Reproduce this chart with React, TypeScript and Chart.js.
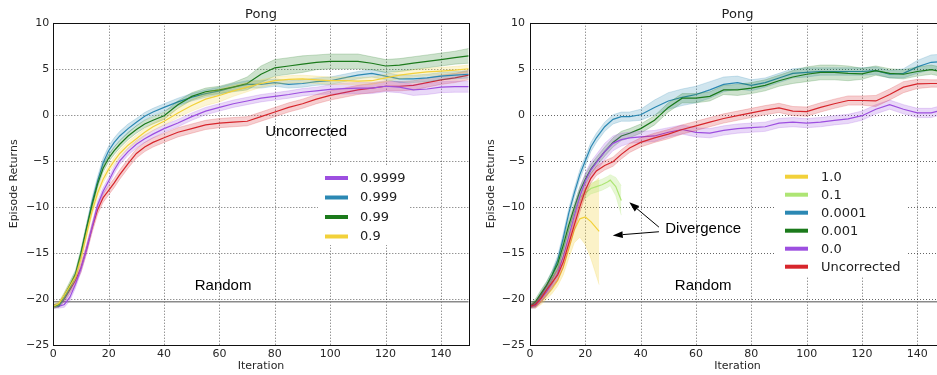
import React, { useEffect, useRef } from "react";
import { Chart, registerables } from "chart.js";

Chart.register(...registerables);

// ---------------- shared axes ----------------
const iterations = [0, 2, 4, 6, 8, 10, 12, 14, 16, 18, 20, 22, 24, 27, 30, 33, 36, 40, 45, 50, 55, 60, 65, 70, 75, 80, 85, 90, 95, 100, 105, 110, 115, 120, 125, 130, 135, 140, 145, 150];
const xTicks = [0, 20, 40, 60, 80, 100, 120, 140];
const yTicks = [-25, -20, -15, -10, -5, 0, 5, 10];
const randomScore = -20.3;

// ---------------- left panel (discount values) ----------------
const left9999 = [-20.8, -20.8, -20.6, -19.8, -18.4, -16.7, -14.6, -12.2, -9.8, -8.3, -7.2, -6.0, -5.0, -4.0, -3.2, -2.6, -2.1, -1.5, -0.9, -0.2, 0.4, 0.8, 1.2, 1.5, 1.8, 2.0, 2.2, 2.45, 2.6, 2.75, 2.85, 2.9, 2.9, 3.1, 3.0, 2.7, 2.8, 3.0, 3.05, 3.05];
const left9999Sd = [0.2, 0.2, 0.3, 0.4, 0.4, 0.4, 0.4, 0.4, 0.4, 0.4, 0.4, 0.4, 0.4, 0.4, 0.4, 0.4, 0.4, 0.4, 0.4, 0.4, 0.4, 0.4, 0.4, 0.4, 0.4, 0.4, 0.4, 0.4, 0.4, 0.5, 0.6, 0.6, 0.6, 0.6, 0.6, 0.6, 0.6, 0.6, 0.6, 0.6];
const left999 = [-20.8, -20.7, -19.9, -18.8, -17.5, -15.2, -12.4, -9.5, -7.2, -5.2, -3.9, -3.0, -2.3, -1.5, -0.8, -0.15, 0.3, 0.8, 1.4, 1.9, 2.3, 2.6, 3.0, 3.3, 3.3, 3.5, 3.3, 3.4, 3.6, 3.7, 4.0, 4.3, 4.5, 4.2, 3.9, 3.9, 4.0, 4.2, 4.3, 4.4];
const left999Sd = [0.2, 0.2, 0.3, 0.4, 0.4, 0.5, 0.5, 0.5, 0.5, 0.5, 0.5, 0.5, 0.5, 0.5, 0.4, 0.4, 0.4, 0.4, 0.4, 0.4, 0.4, 0.4, 0.4, 0.4, 0.4, 0.4, 0.4, 0.4, 0.4, 0.4, 0.4, 0.4, 0.4, 0.4, 0.4, 0.4, 0.4, 0.4, 0.4, 0.4];
const left99 = [-20.8, -20.6, -19.6, -18.5, -17.3, -15.0, -12.3, -9.8, -7.5, -5.8, -4.7, -3.9, -3.2, -2.3, -1.6, -1.0, -0.6, -0.1, 1.1, 2.0, 2.5, 2.7, 3.0, 3.4, 4.4, 5.1, 5.3, 5.5, 5.7, 5.8, 5.8, 5.8, 5.6, 5.3, 5.4, 5.6, 5.8, 6.0, 6.2, 6.4];
const left99Sd = [0.2, 0.2, 0.3, 0.4, 0.4, 0.4, 0.4, 0.4, 0.4, 0.4, 0.4, 0.4, 0.4, 0.4, 0.4, 0.4, 0.4, 0.4, 0.4, 0.4, 0.4, 0.4, 0.5, 0.7, 0.9, 0.9, 0.9, 0.9, 0.8, 0.8, 0.8, 0.8, 0.7, 0.7, 0.7, 0.7, 0.7, 0.7, 0.7, 0.8];
const left9 = [-20.8, -20.5, -19.6, -18.6, -17.6, -15.6, -13.0, -10.5, -8.5, -7.0, -5.9, -5.0, -4.2, -3.3, -2.6, -1.9, -1.3, -0.7, 0.2, 1.0, 1.7, 2.1, 2.6, 3.0, 3.4, 3.7, 3.85, 3.9, 3.8, 3.7, 3.7, 3.65, 3.7, 4.0, 4.3, 4.5, 4.65, 4.75, 4.85, 5.0];
const left9Sd = [0.2, 0.2, 0.3, 0.3, 0.3, 0.4, 0.4, 0.4, 0.4, 0.4, 0.4, 0.4, 0.4, 0.4, 0.4, 0.4, 0.4, 0.4, 0.5, 0.6, 0.7, 0.7, 0.6, 0.5, 0.4, 0.4, 0.4, 0.4, 0.4, 0.4, 0.4, 0.4, 0.4, 0.4, 0.4, 0.4, 0.4, 0.4, 0.4, 0.4];
const leftUncorrected = [-20.8, -20.7, -20.0, -19.0, -18.0, -16.6, -14.6, -12.3, -10.3, -9.0, -8.2, -7.4, -6.5, -5.3, -4.2, -3.5, -3.0, -2.5, -1.9, -1.5, -1.1, -0.9, -0.8, -0.7, -0.2, 0.3, 0.8, 1.2, 1.7, 2.1, 2.4, 2.7, 2.9, 3.1, 3.1, 3.2, 3.5, 3.8, 4.0, 4.3];
const leftUncorrectedSd = [0.2, 0.2, 0.3, 0.4, 0.4, 0.5, 0.5, 0.5, 0.5, 0.5, 0.5, 0.5, 0.5, 0.5, 0.5, 0.5, 0.5, 0.5, 0.5, 0.5, 0.5, 0.5, 0.5, 0.5, 0.5, 0.5, 0.5, 0.5, 0.5, 0.5, 0.5, 0.5, 0.5, 0.5, 0.5, 0.5, 0.5, 0.5, 0.5, 0.5];

// ---------------- right panel (regularisation values) ----------------
const right10Iter = [0, 2, 4, 6, 8, 10, 12, 14, 16, 18, 20, 22, 24, 25];
const right10 = [-20.8, -20.8, -20.3, -19.6, -18.9, -18.0, -16.6, -14.6, -12.5, -11.3, -11.1, -11.6, -12.3, -12.65];
const right10Sd = [0.2, 0.2, 0.3, 0.4, 0.5, 0.6, 0.8, 1.0, 1.4, 2.0, 3.0, 4.0, 5.2, 5.8];
const right01Iter = [0, 2, 4, 6, 8, 10, 12, 14, 16, 18, 20, 22, 24, 26, 28, 29, 31, 33];
const right01 = [-20.8, -20.5, -19.8, -19.0, -18.0, -16.8, -14.8, -12.6, -10.6, -9.0, -8.5, -8.0, -7.8, -7.6, -7.3, -7.1, -7.8, -9.3];
const right01Sd = [0.2, 0.3, 0.4, 0.4, 0.5, 0.5, 0.5, 0.5, 0.5, 0.6, 0.6, 0.6, 0.6, 0.6, 0.6, 0.6, 1.0, 1.6];
const right0001 = [-20.8, -20.5, -19.6, -18.6, -17.4, -15.8, -13.4, -10.7, -8.5, -6.5, -5.0, -3.5, -2.5, -1.3, -0.5, -0.2, -0.2, 0.0, 0.8, 1.5, 1.9, 2.2, 2.7, 3.3, 3.5, 3.2, 3.5, 4.0, 4.5, 4.6, 4.7, 4.7, 4.7, 4.7, 4.8, 4.4, 4.5, 5.2, 5.7, 5.8];
const right0001Sd = [0.2, 0.3, 0.4, 0.4, 0.5, 0.5, 0.5, 0.5, 0.5, 0.5, 0.5, 0.5, 0.5, 0.5, 0.5, 0.5, 0.5, 0.6, 0.8, 0.9, 0.9, 0.9, 0.9, 0.8, 0.7, 0.6, 0.5, 0.5, 0.5, 0.5, 0.4, 0.4, 0.4, 0.4, 0.4, 0.4, 0.5, 0.7, 0.8, 0.8];
const right001 = [-20.8, -20.3, -19.4, -18.5, -17.4, -16.2, -14.2, -12.0, -10.1, -8.3, -7.0, -5.9, -5.1, -4.0, -3.0, -2.3, -2.0, -1.5, -0.6, 0.8, 1.8, 1.8, 2.0, 2.7, 2.7, 2.9, 3.2, 3.7, 4.1, 4.4, 4.6, 4.6, 4.5, 4.45, 4.8, 4.5, 4.4, 4.7, 4.9, 4.6];
const right001Sd = [0.2, 0.3, 0.4, 0.4, 0.4, 0.5, 0.5, 0.5, 0.5, 0.5, 0.5, 0.5, 0.5, 0.5, 0.5, 0.5, 0.5, 0.5, 0.5, 0.5, 0.5, 0.5, 0.5, 0.5, 0.6, 0.6, 0.6, 0.6, 0.7, 0.8, 0.8, 0.8, 0.8, 0.6, 0.5, 0.5, 0.5, 0.5, 0.5, 0.5];
const right00 = [-20.8, -20.7, -20.0, -19.2, -18.3, -17.2, -15.4, -13.2, -11.0, -8.9, -7.2, -6.0, -5.2, -4.0, -3.1, -2.7, -2.5, -2.4, -2.3, -1.9, -1.6, -1.9, -2.0, -1.7, -1.5, -1.4, -1.3, -0.9, -0.8, -0.9, -0.8, -0.6, -0.45, -0.1, 0.6, 1.1, 0.6, 0.2, 0.2, 0.6];
const right00Sd = [0.2, 0.3, 0.4, 0.5, 0.5, 0.6, 0.7, 0.8, 0.8, 0.9, 0.9, 0.9, 0.9, 0.9, 0.8, 0.7, 0.6, 0.6, 0.6, 0.5, 0.5, 0.5, 0.5, 0.5, 0.5, 0.5, 0.5, 0.5, 0.5, 0.5, 0.5, 0.5, 0.5, 0.5, 0.5, 0.5, 0.5, 0.5, 0.5, 0.5];
const rightUncorrected = [-20.8, -20.6, -19.9, -19.0, -18.2, -17.4, -16.0, -14.0, -12.0, -10.0, -8.2, -6.9, -6.1, -5.5, -5.1, -4.3, -3.6, -3.0, -2.5, -2.1, -1.6, -1.2, -0.8, -0.4, -0.1, 0.2, 0.5, 0.75, 0.4, 0.35, 0.8, 1.2, 1.55, 1.55, 1.5, 2.2, 3.0, 3.35, 3.4, 3.4];
const rightUncorrectedSd = [0.2, 0.3, 0.4, 0.5, 0.5, 0.6, 0.6, 0.6, 0.6, 0.6, 0.6, 0.5, 0.5, 0.5, 0.5, 0.5, 0.5, 0.5, 0.5, 0.5, 0.5, 0.5, 0.5, 0.5, 0.5, 0.5, 0.5, 0.5, 0.5, 0.5, 0.5, 0.5, 0.5, 0.5, 0.6, 0.6, 0.6, 0.5, 0.4, 0.4];

// ---------------- styles ----------------
const PURPLE = "#9d4fe0";
const BLUE = "#2b88b3";
const GREEN = "#1b7a1b";
const YELLOW = "#f2d13a";
const LIGHTGREEN = "#aee574";
const RED = "#d7262c";

type Series = { label: string; legend: boolean; color: string; x: number[]; mean: number[]; sd: number[]; fillAlpha?: number };

const leftSeries: Series[] = [
  { label: "Uncorrected", legend: false, color: RED, x: iterations, mean: leftUncorrected, sd: leftUncorrectedSd },
  { label: "0.9999", legend: true, color: PURPLE, x: iterations, mean: left9999, sd: left9999Sd },
  { label: "0.999", legend: true, color: BLUE, x: iterations, mean: left999, sd: left999Sd },
  { label: "0.99", legend: true, color: GREEN, x: iterations, mean: left99, sd: left99Sd },
  { label: "0.9", legend: true, color: YELLOW, x: iterations, mean: left9, sd: left9Sd },
];

const rightSeries: Series[] = [
  { label: "1.0", legend: true, color: YELLOW, x: right10Iter, mean: right10, sd: right10Sd, fillAlpha: 0.28 },
  { label: "0.1", legend: true, color: LIGHTGREEN, x: right01Iter, mean: right01, sd: right01Sd, fillAlpha: 0.3 },
  { label: "0.0001", legend: true, color: BLUE, x: iterations, mean: right0001, sd: right0001Sd },
  { label: "0.001", legend: true, color: GREEN, x: iterations, mean: right001, sd: right001Sd },
  { label: "0.0", legend: true, color: PURPLE, x: iterations, mean: right00, sd: right00Sd },
  { label: "Uncorrected", legend: true, color: RED, x: iterations, mean: rightUncorrected, sd: rightUncorrectedSd },
];

function rgba(hex: string, a: number) {
  const n = parseInt(hex.slice(1), 16);
  return `rgba(${(n >> 16) & 255},${(n >> 8) & 255},${n & 255},${a})`;
}

function buildDatasets(series: Series[]) {
  const ds: any[] = [];
  series.forEach((s) => {
    const upper = s.x.map((x, i) => ({ x, y: s.mean[i] + s.sd[i] }));
    const lower = s.x.map((x, i) => ({ x, y: s.mean[i] - s.sd[i] }));
    const line = s.x.map((x, i) => ({ x, y: s.mean[i] }));
    const lowerIdx = ds.length + 1;
    ds.push({ data: upper, borderColor: rgba(s.color, 0.3), borderWidth: 0.7, backgroundColor: rgba(s.color, s.fillAlpha ?? 0.22), fill: lowerIdx, pointRadius: 0, tension: 0 });
    ds.push({ data: lower, borderColor: rgba(s.color, 0.3), borderWidth: 0.7, fill: false, pointRadius: 0, tension: 0 });
    ds.push({ data: line, label: s.label, legendLabel: s.legend ? s.label : null, legendColor: s.color, borderColor: s.color, borderWidth: 1.2, fill: false, pointRadius: 0, tension: 0 });
  });
  ds.forEach((d, i) => (d.order = ds.length - i));
  return ds;
}

const fmtTick = (v: number) => (v < 0 ? "\u2212" + Math.abs(v) : String(v));

const decorPlugin = {
  id: "pongDecor",
  beforeDatasetsDraw(chart: any, _args: any, opts: any) {
    const { ctx, chartArea: a, scales } = chart;
    const x = scales.x, y = scales.y;
    ctx.save();
    ctx.beginPath();
    ctx.rect(a.left, a.top, a.right - a.left, a.bottom - a.top);
    ctx.clip();
    ctx.strokeStyle = "rgba(0,0,0,0.6)";
    ctx.lineWidth = 1;
    ctx.setLineDash([1, 2]);
    xTicks.forEach((v) => {
      const px = Math.round(x.getPixelForValue(v)) + 0.5;
      ctx.beginPath(); ctx.moveTo(px, a.top); ctx.lineTo(px, a.bottom); ctx.stroke();
    });
    yTicks.forEach((v) => {
      const py = Math.round(y.getPixelForValue(v)) + 0.5;
      ctx.beginPath(); ctx.moveTo(a.left, py); ctx.lineTo(a.right, py); ctx.stroke();
    });
    ctx.setLineDash([]);
    ctx.strokeStyle = "#8a8a8a";
    ctx.lineWidth = 1.6;
    const ry = y.getPixelForValue(opts.randomScore);
    ctx.beginPath(); ctx.moveTo(a.left, ry); ctx.lineTo(a.right, ry); ctx.stroke();
    ctx.restore();
  },
  afterDatasetsDraw(chart: any, _args: any, opts: any) {
    const { ctx, chartArea: a, scales } = chart;
    const x = scales.x, y = scales.y;
    ctx.save();
    // annotations
    ctx.fillStyle = "#000";
    ctx.font = '15px "Liberation Sans", Arial, sans-serif';
    ctx.textAlign = "center";
    ctx.textBaseline = "middle";
    (opts.texts || []).forEach((t: any) => {
      ctx.fillText(t.text, x.getPixelForValue(t.x), y.getPixelForValue(t.y));
    });
    (opts.arrows || []).forEach((ar: any) => {
      const x0 = x.getPixelForValue(ar.from[0]), y0 = y.getPixelForValue(ar.from[1]);
      const x1 = x.getPixelForValue(ar.to[0]), y1 = y.getPixelForValue(ar.to[1]);
      const ang = Math.atan2(y1 - y0, x1 - x0);
      const hl = 10, hw = 3.5;
      const bx = x1 - hl * Math.cos(ang), by = y1 - hl * Math.sin(ang);
      ctx.strokeStyle = "#000"; ctx.lineWidth = 1;
      ctx.beginPath(); ctx.moveTo(x0, y0); ctx.lineTo(bx, by); ctx.stroke();
      ctx.beginPath();
      ctx.moveTo(x1, y1);
      ctx.lineTo(bx + hw * Math.sin(ang), by - hw * Math.cos(ang));
      ctx.lineTo(bx - hw * Math.sin(ang), by + hw * Math.cos(ang));
      ctx.closePath(); ctx.fill();
    });
    // legend
    const lg = opts.legend;
    if (lg) {
      ctx.fillStyle = "#fff";
      ctx.fillRect(lg.left, lg.top, lg.width, lg.height);
      const items = chart.data.datasets.filter((d: any) => d.legendLabel);
      ctx.font = '13px "DejaVu Sans", sans-serif';
      ctx.textAlign = "left";
      ctx.textBaseline = "middle";
      items.forEach((d: any, i: number) => {
        const cy = lg.firstRow + i * lg.rowHeight;
        ctx.strokeStyle = d.legendColor; ctx.lineWidth = 4; ctx.lineCap = "butt";
        ctx.beginPath(); ctx.moveTo(lg.markerX, cy); ctx.lineTo(lg.markerX + lg.markerLen, cy); ctx.stroke();
        ctx.fillStyle = "#222";
        ctx.fillText(d.legendLabel, lg.textX, cy + 0.5);
      });
    }
    // frame
    ctx.strokeStyle = "#111"; ctx.lineWidth = 1;
    ctx.strokeRect(Math.round(a.left) + 0.5, Math.round(a.top) + 0.5, Math.round(a.right) - Math.round(a.left), Math.round(a.bottom) - Math.round(a.top));
    // title
    ctx.fillStyle = "#222";
    ctx.font = '13px "DejaVu Sans", sans-serif';
    ctx.textAlign = "center";
    ctx.textBaseline = "alphabetic";
    ctx.fillText(opts.title, (a.left + a.right) / 2, a.top - 4.4);
    ctx.restore();
  },
};

type PanelProps = {
  series: Series[];
  width: number;
  yAxisWidth: number;
  padRight: number;
  yTitlePad: number;
  yTickPad: number;
  decor: any;
};

function PongPanel({ series, width, yAxisWidth, padRight, yTitlePad, yTickPad, decor }: PanelProps) {
  const ref = useRef<HTMLCanvasElement>(null);
  useEffect(() => {
    const tickFont = { family: '"DejaVu Sans", sans-serif', size: 11 };
    const chart = new Chart(ref.current as HTMLCanvasElement, {
      type: "line",
      data: { datasets: buildDatasets(series) },
      options: {
        animation: false,
        responsive: false,
        maintainAspectRatio: false,
        devicePixelRatio: 1,
        layout: { padding: { left: 0, right: padRight, top: 22.7, bottom: 0 } },
        plugins: { legend: { display: false }, tooltip: { enabled: false }, pongDecor: decor } as any,
        scales: {
          x: {
            type: "linear",
            min: 0,
            max: 150,
            afterBuildTicks: (s: any) => { s.ticks = xTicks.map((v) => ({ value: v })); },
            afterFit: (s: any) => { s.height = 30; },
            grid: { display: false, drawTicks: false },
            border: { display: false },
            ticks: { font: tickFont, color: "#262626", padding: 3, maxRotation: 0, autoSkip: false, callback: (v: any) => fmtTick(Number(v)) },
            title: { display: true, text: "Iteration", font: tickFont, color: "#262626", padding: { top: 0, bottom: 2 } },
          },
          y: {
            type: "linear",
            min: -25,
            max: 10,
            afterBuildTicks: (s: any) => { s.ticks = yTicks.map((v) => ({ value: v })); },
            afterFit: (s: any) => { s.width = yAxisWidth; },
            grid: { display: false, drawTicks: false },
            border: { display: false },
            ticks: { font: tickFont, color: "#262626", padding: yTickPad, autoSkip: false, callback: (v: any) => fmtTick(Number(v)) },
            title: { display: true, text: "Episode Returns", font: tickFont, color: "#262626", padding: { top: yTitlePad, bottom: 0 } },
          },
        },
      } as any,
      plugins: [decorPlugin as any],
    });
    return () => chart.destroy();
  }, []);
  return <canvas ref={ref} width={width} height={375} style={{ display: "block", width, height: 375 }} />;
}

export default function App() {
  return (
    <div style={{ position: "absolute", left: 0, top: 0, width: 937, height: 375, overflow: "hidden", background: "#fff" }}>
      <div style={{ position: "absolute", left: 0, top: 0 }}>
        <PongPanel
          series={leftSeries}
          width={470}
          yAxisWidth={53.3}
          padRight={1.3}
          yTitlePad={8}
          yTickPad={4}
          decor={{
            title: "Pong",
            randomScore,
            texts: [
              { text: "Uncorrected", x: 91.3, y: -1.8 },
              { text: "Random", x: 61.3, y: -18.55 },
            ],
            arrows: [],
            legend: { left: 318, top: 166, width: 92, height: 79, firstRow: 178, rowHeight: 19.5, markerX: 325, markerLen: 23, textX: 360 },
          }}
        />
      </div>
      <div style={{ position: "absolute", left: 470, top: 0 }}>
        <PongPanel
          series={rightSeries}
          width={480}
          yAxisWidth={60}
          padRight={5}
          yTitlePad={15}
          yTickPad={5}
          decor={{
            title: "Pong",
            randomScore,
            texts: [
              { text: "Random", x: 62.6, y: -18.55 },
              { text: "Divergence", x: 62.6, y: -12.4 },
            ],
            arrows: [
              { from: [46.6, -12.7], to: [29.9, -13.1] },
              { from: [46.6, -12.2], to: [35.9, -9.5] },
            ],
            legend: { left: 306, top: 163, width: 132, height: 114, firstRow: 176.7, rowHeight: 18, markerX: 315, markerLen: 23, textX: 351 },
          }}
        />
      </div>
    </div>
  );
}
